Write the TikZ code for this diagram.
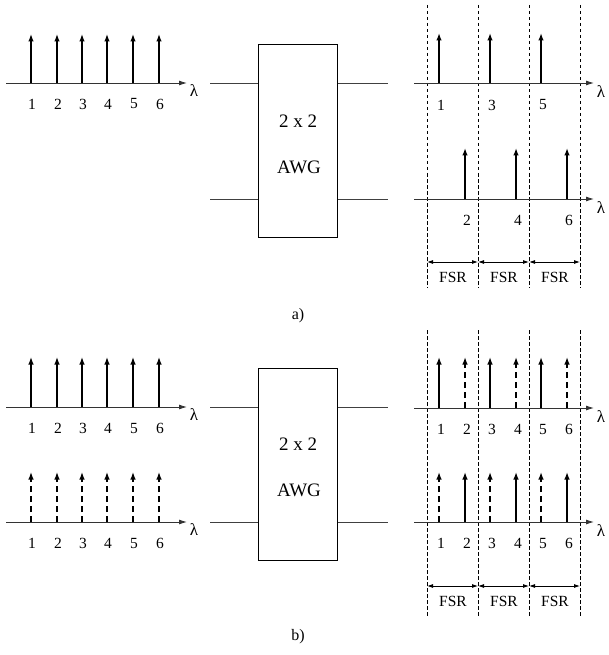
\documentclass[tikz,border=0pt]{standalone}
\usepackage{fontspec}
\setmainfont{Liberation Serif}
\usetikzlibrary{arrows.meta}
\begin{document}
\begin{tikzpicture}[x=1pt,y=-1pt,
  axis/.style={draw=black!80, line width=0.9pt, -{Latex[length=8pt,width=5pt]}},
  spike/.style={line width=1.4pt, -{Latex[length=7.5pt,width=5.5pt]}},
  dspike/.style={spike, dash pattern=on 6pt off 4pt},
  guide/.style={line width=0.6pt, dash pattern=on 3.5pt off 2.5pt},
  fsr/.style={line width=0.8pt, {Latex[length=6pt,width=4pt]}-{Latex[length=6pt,width=4pt]}},
  lbl/.style={font=\fontsize{15.5}{15.5}\selectfont, inner sep=0pt},
  lam/.style={font=\fontsize{17}{17}\selectfont, inner sep=0pt},
  boxtxt/.style={font=\fontsize{19}{19}\selectfont, inner sep=0pt},
  awg/.style={draw, line width=1pt, minimum width=79pt, minimum height=192pt, inner sep=0pt},
  wire/.style={draw=black!75, line width=0.9pt}]
\useasboundingbox (0,0) rectangle (609,655);

% ================= a) =================
% left spectrum
\coordinate (A1s) at (6,83); \coordinate (A1e) at (187,83);
\draw[axis] (A1s) -- (A1e);
\node[lam] (A1l) at (194,91) {λ};
\foreach \i/\x in {1/31,2/57,3/82,4/107,5/133,6/159}{
  \coordinate (A1b\i) at (\x,83); \coordinate (A1t\i) at (\x,34);
  \draw[spike] (A1b\i) -- (A1t\i);
  \node[lbl] (A1n\i) at (\x+1,104) {\i};
}
% AWG
\node[awg] (B1) at (297.5,141) {};
\node[boxtxt] (B1t) at (298,121) {2 x 2};
\node[boxtxt] (B1w) at (299,167) {AWG};
\coordinate (W1a) at (210,83); \coordinate (W1b) at (210,199);
\coordinate (W1c) at (388,83); \coordinate (W1d) at (388,199);
\draw[wire] (W1a) -- (B1.west |- W1a);
\draw[wire] (W1b) -- (B1.west |- W1b);
\draw[wire] (B1.east |- W1c) -- (W1c);
\draw[wire] (B1.east |- W1d) -- (W1d);
% right spectra
\foreach \k/\x in {1/427,2/478,3/529,4/580}{
  \coordinate (G1t\k) at (\x,5); \coordinate (G1b\k) at (\x,288);
  \draw[guide] (G1t\k) -- (G1b\k);
  \coordinate (F1\k) at (\x,262);
}
\coordinate (R1s) at (414,83); \coordinate (R1e) at (594,83);
\draw[axis] (R1s) -- (R1e);
\node[lam] (R1l) at (601,92) {λ};
\coordinate (R2s) at (414,199); \coordinate (R2e) at (594,199);
\draw[axis] (R2s) -- (R2e);
\node[lam] (R2l) at (601,208) {λ};
\foreach \i/\x in {1/439,3/490,5/541}{
  \coordinate (R1b\i) at (\x,83); \coordinate (R1t\i) at (\x,33);
  \draw[spike] (R1b\i) -- (R1t\i);
  \node[lbl] (R1n\i) at (\x+2,105) {\i};
}
\foreach \i/\x in {2/465,4/516,6/567}{
  \coordinate (R2b\i) at (\x,199); \coordinate (R2t\i) at (\x,148);
  \draw[spike] (R2b\i) -- (R2t\i);
  \node[lbl] (R2n\i) at (\x+2,220) {\i};
}
\draw[fsr] (F11) -- (F12); \draw[fsr] (F12) -- (F13); \draw[fsr] (F13) -- (F14);
\node[lbl] (S11) at (453,277) {FSR};
\node[lbl] (S12) at (504,277) {FSR};
\node[lbl] (S13) at (555,277) {FSR};
\node[boxtxt, font=\fontsize{16}{16}\selectfont] (capA) at (298,316) {a)};

% ================= b) =================
\coordinate (C1s) at (6,407); \coordinate (C1e) at (187,407);
\draw[axis] (C1s) -- (C1e);
\node[lam] (C1l) at (194,415) {λ};
\coordinate (C2s) at (6,522); \coordinate (C2e) at (187,522);
\draw[axis] (C2s) -- (C2e);
\node[lam] (C2l) at (194,530) {λ};
\foreach \i/\x in {1/31,2/57,3/82,4/107,5/133,6/159}{
  \coordinate (C1b\i) at (\x,407); \coordinate (C1t\i) at (\x,357);
  \draw[spike] (C1b\i) -- (C1t\i);
  \node[lbl] (C1n\i) at (\x+1,428) {\i};
  \coordinate (C2b\i) at (\x,522); \coordinate (C2t\i) at (\x,472);
  \draw[dspike] (C2b\i) -- (C2t\i);
  \node[lbl] (C2n\i) at (\x+1,543) {\i};
}
% AWG
\node[awg] (B2) at (297.5,464) {};
\node[boxtxt] (B2t) at (298,444) {2 x 2};
\node[boxtxt] (B2w) at (299,490) {AWG};
\coordinate (W2a) at (210,407); \coordinate (W2b) at (210,522);
\coordinate (W2c) at (388,407); \coordinate (W2d) at (388,522);
\draw[wire] (W2a) -- (B2.west |- W2a);
\draw[wire] (W2b) -- (B2.west |- W2b);
\draw[wire] (B2.east |- W2c) -- (W2c);
\draw[wire] (B2.east |- W2d) -- (W2d);
% right spectra
\foreach \k/\x in {1/427,2/478,3/529,4/580}{
  \coordinate (G2t\k) at (\x,330); \coordinate (G2b\k) at (\x,617);
  \draw[guide] (G2t\k) -- (G2b\k);
  \coordinate (F2\k) at (\x,586);
}
\coordinate (D1s) at (414,408); \coordinate (D1e) at (594,408);
\draw[axis] (D1s) -- (D1e);
\node[lam] (D1l) at (601,417) {λ};
\coordinate (D2s) at (414,522); \coordinate (D2e) at (594,522);
\draw[axis] (D2s) -- (D2e);
\node[lam] (D2l) at (601,531) {λ};
\foreach \i/\x/\sa/\sb in {1/439/spike/dspike,2/465/dspike/spike,3/490/spike/dspike,4/516/dspike/spike,5/541/spike/dspike,6/567/dspike/spike}{
  \coordinate (D1b\i) at (\x,408); \coordinate (D1t\i) at (\x,357);
  \draw[\sa] (D1b\i) -- (D1t\i);
  \node[lbl] (D1n\i) at (\x+2,429) {\i};
  \coordinate (D2b\i) at (\x,522); \coordinate (D2t\i) at (\x,472);
  \draw[\sb] (D2b\i) -- (D2t\i);
  \node[lbl] (D2n\i) at (\x+2,543) {\i};
}
\draw[fsr] (F21) -- (F22); \draw[fsr] (F22) -- (F23); \draw[fsr] (F23) -- (F24);
\node[lbl] (S21) at (453,601) {FSR};
\node[lbl] (S22) at (504,601) {FSR};
\node[lbl] (S23) at (555,601) {FSR};
\node[boxtxt, font=\fontsize{16}{16}\selectfont] (capB) at (298,637) {b)};
\end{tikzpicture}
\end{document}
